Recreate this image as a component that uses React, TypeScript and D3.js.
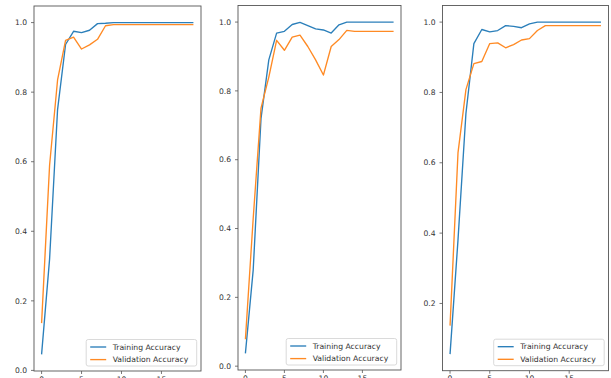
import React from "react";
import * as d3 from "d3";

const epochs = d3.range(20);

const train1 = [0.046, 0.32, 0.75, 0.937, 0.975, 0.971, 0.978, 0.997, 0.998, 1.0, 1.0, 1.0, 1.0, 1.0, 1.0, 1.0, 1.0, 1.0, 1.0, 1.0];
const val1 = [0.136, 0.59, 0.835, 0.949, 0.958, 0.924, 0.936, 0.952, 0.991, 0.994, 0.994, 0.994, 0.994, 0.994, 0.994, 0.994, 0.994, 0.994, 0.994, 0.994];

const train2 = [0.037, 0.28, 0.72, 0.89, 0.968, 0.973, 0.993, 0.999, 0.99, 0.98, 0.977, 0.968, 0.992, 1.0, 1.0, 1.0, 1.0, 1.0, 1.0, 1.0];
const val2 = [0.078, 0.43, 0.75, 0.84, 0.947, 0.918, 0.956, 0.962, 0.929, 0.89, 0.846, 0.929, 0.949, 0.976, 0.973, 0.973, 0.973, 0.973, 0.973, 0.973];

const train3 = [0.056, 0.38, 0.74, 0.939, 0.979, 0.972, 0.976, 0.99, 0.988, 0.984, 0.995, 1.0, 1.0, 1.0, 1.0, 1.0, 1.0, 1.0, 1.0, 1.0];
const val3 = [0.137, 0.628, 0.808, 0.882, 0.888, 0.939, 0.941, 0.927, 0.936, 0.949, 0.953, 0.976, 0.99, 0.99, 0.99, 0.99, 0.99, 0.99, 0.99, 0.99];

const xTicks = [0, 5, 10, 15];
const yTicks = [0.0, 0.2, 0.4, 0.6, 0.8, 1.0];
const seriesNames = ["Training Accuracy", "Validation Accuracy"];

const BLUE = "#2b7fba";
const ORANGE = "#ff8a24";
const FONT = "DejaVu Sans, sans-serif";

type PanelProps = {
  train: number[];
  val: number[];
  left: number;
  right: number;
  top: number;
  bottom: number;
};

function Panel({ train, val, left, right, top, bottom }: PanelProps) {
  const all = train.concat(val);
  const lo = d3.min(all)!;
  const hi = d3.max(all)!;
  const m = (hi - lo) * 0.05;
  const x = d3.scaleLinear().domain([-0.95, 19.95]).range([left, right]);
  const y = d3.scaleLinear().domain([lo - m, hi + m]).range([bottom, top]);
  const line = d3
    .line<number>()
    .x((_, i) => x(epochs[i]))
    .y((d) => y(d));
  const yt = yTicks.filter((t) => t >= lo - m && t <= hi + m);
  const legW = 110.5;
  const legH = 26.5;
  const legX = right - 4.3 - legW;
  const legY = bottom - 5 - legH;
  return (
    <g>
      <path d={line(train)!} fill="none" stroke={BLUE} strokeWidth={1.35} strokeLinejoin="round" />
      <path d={line(val)!} fill="none" stroke={ORANGE} strokeWidth={1.35} strokeLinejoin="round" />
      <rect x={left} y={top} width={right - left} height={bottom - top} fill="none" stroke="#555" strokeWidth={0.9} />
      {yt.map((t) => (
        <g key={t}>
          <line x1={left - 3} x2={left} y1={y(t)} y2={y(t)} stroke="#555" strokeWidth={0.8} />
          <text x={left - 7} y={y(t)} dy="0.35em" textAnchor="end" fontSize={7.6} fontFamily={FONT} fill="#333">
            {t.toFixed(1)}
          </text>
        </g>
      ))}
      {xTicks.map((t) => (
        <g key={t}>
          <line x1={x(t)} x2={x(t)} y1={bottom} y2={bottom + 3} stroke="#555" strokeWidth={0.8} />
          <text x={x(t)} y={bottom + 10.5} textAnchor="middle" fontSize={7.6} fontFamily={FONT} fill="#333">
            {t}
          </text>
        </g>
      ))}
      <rect x={legX} y={legY} width={legW} height={legH} rx={2} fill="white" fillOpacity={0.8} stroke="#d0d0d0" strokeWidth={0.8} />
      {seriesNames.map((n, i) => (
        <g key={n}>
          <line
            x1={legX + 4}
            x2={legX + 20}
            y1={legY + 7.5 + i * 12.6}
            y2={legY + 7.5 + i * 12.6}
            stroke={i === 0 ? BLUE : ORANGE}
            strokeWidth={1.35}
          />
          <text x={legX + 26.5} y={legY + 7.5 + i * 12.6} dy="0.35em" fontSize={7.7} fontFamily={FONT} fill="#333">
            {n}
          </text>
        </g>
      ))}
    </g>
  );
}

export default function App() {
  return (
    <svg width={611} height={378} style={{ position: "absolute", left: 0, top: 0, background: "white" }}>
      <rect x={0} y={0} width={611} height={378} fill="white" />
      <Panel train={train1} val={val1} left={34} right={201} top={6} bottom={371} />
      <Panel train={train2} val={val2} left={238} right={401} top={5.5} bottom={370} />
      <Panel train={train3} val={val3} left={442.5} right={608.5} top={5.5} bottom={370.7} />
    </svg>
  );
}
